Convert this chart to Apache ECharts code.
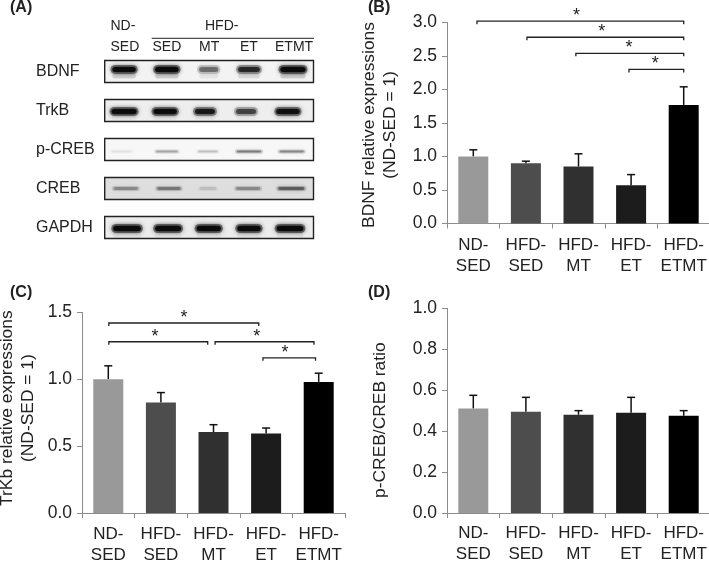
<!DOCTYPE html>
<html><head><meta charset="utf-8">
<style>html,body{margin:0;padding:0;background:#fff}#c{width:709px;height:561px}</style>
<script src="https://cdn.jsdelivr.net/npm/echarts@6/dist/echarts.min.js"></script>
</head><body><div id="c"></div>
<script>
const groups = ['ND-\nSED','HFD-\nSED','HFD-\nMT','HFD-\nET','HFD-\nETMT'];
const barColors = ['#999999','#4d4d4d','#303030','#1c1c1c','#000000'];
const bdnfValues = [1.0,0.9,0.85,0.57,1.77];
const bdnfErrTop = [1.10,0.93,1.04,0.73,2.04];
const trkbValues = [1.0,0.825,0.605,0.595,0.98];
const trkbErrTop = [1.10,0.90,0.66,0.635,1.045];
const ratioValues = [0.51,0.495,0.48,0.49,0.475];
const ratioErrTop = [0.575,0.565,0.50,0.565,0.50];
// [from, to, level] in group units
const bdnfBrackets = [[0.07,4.0,3.02],[1.02,4.0,2.78],[1.95,4.0,2.54],[2.96,4.0,2.30]];
const trkbBrackets = [[0.01,2.86,1.42],[0.01,1.89,1.28],[2.03,3.91,1.28],[2.94,3.94,1.16]];
// [x, level]
const bdnfStars = [[1.96,3.02],[2.44,2.78],[2.96,2.54],[3.46,2.30]];
const trkbStars = [[1.44,1.42],[0.89,1.28],[2.82,1.28],[3.36,1.16]];

const proteins = ['BDNF','TrkB','p-CREB','CREB','GAPDH'];
const bandCenters = [
  [0.48,1.50,2.50,3.46,4.51],
  [0.48,1.46,2.41,3.39,4.39],
  [0.42,1.50,2.48,3.46,4.48],
  [0.52,1.55,2.48,3.44,4.47],
  [0.55,1.53,2.50,3.46,4.44]];
const bandStrengths = [
  [0.95,1.0,0.4,0.7,1.0],
  [0.95,0.95,0.8,0.55,0.9],
  [0.06,0.24,0.16,0.38,0.34],
  [0.28,0.34,0.1,0.28,0.44],
  [1.0,1.0,1.0,1.0,1.0]];
const bandWidths = [
  [0.70,0.70,0.60,0.66,0.74],
  [0.74,0.70,0.62,0.62,0.70],
  [0.62,0.66,0.60,0.72,0.72],
  [0.72,0.70,0.54,0.72,0.76],
  [0.80,0.76,0.72,0.70,0.78]];
const rowBackgrounds = ['#f3f3f3','#eeeeee','#f7f7f7','#dedede','#ececec'];
const rowBandOffset = [-2,1,2,0,1];
const rowBandThickness = [9,9,4,5,9];
const rowSmear = [0.14,0.03,0,0,0.05];

const font = '"Liberation Sans", Arial, sans-serif';
const ink = '#222';
const axisGray = '#8c8c8c';

const panels = [
 {top:22.5,height:201,left:447,max:3,interval:0.5,name:'BDNF relative expressions\n(ND-SED = 1)',gap:46,pad:[0,4,0,0],labelMargin:11,values:bdnfValues,err:bdnfErrTop,br:bdnfBrackets,st:bdnfStars},
 {top:312.3,height:200.7,left:82,max:1.5,interval:0.5,name:'TrKb relative expressions\n(ND-SED = 1)',gap:43.5,pad:[0,0,0,9],labelMargin:11,values:trkbValues,err:trkbErrTop,br:trkbBrackets,st:trkbStars},
 {top:308.3,height:204.7,left:447,max:1,interval:0.2,name:'p-CREB/CREB ratio',gap:56,pad:[0,19,0,0],labelMargin:10,values:ratioValues,err:ratioErrTop,br:[],st:[]}
];

const grid=[],xAxis=[],yAxis=[],series=[];
panels.forEach((p,i)=>{
  const g=grid.length;
  grid.push({left:p.left,top:p.top,width:263,height:p.height,outerBoundsMode:'none'});
  const catX=xAxis.length;
  xAxis.push({type:'category',gridIndex:g,data:groups,boundaryGap:true,
    axisLine:{lineStyle:{color:axisGray,width:1}},axisTick:{show:true,length:5,lineStyle:{color:axisGray},alignWithLabel:false},
    axisLabel:{interval:0,color:ink,fontFamily:font,fontSize:17,lineHeight:21,margin:p.labelMargin,hideOverlap:false},splitLine:{show:false}});
  const valX=xAxis.length;
  xAxis.push({type:'value',gridIndex:g,min:-0.5,max:4.5,show:false,splitLine:{show:false}});
  const yi=yAxis.length;
  yAxis.push({type:'value',gridIndex:g,min:0,max:p.max,interval:p.interval,
    name:p.name,nameLocation:'middle',nameGap:p.gap,nameMoveOverlap:false,
    nameTextStyle:{color:ink,fontFamily:font,fontSize:17.4,lineHeight:21,padding:p.pad},
    axisLine:{show:true,onZero:false,lineStyle:{color:axisGray,width:1}},axisTick:{show:true,length:5,lineStyle:{color:axisGray}},
    axisLabel:{color:ink,fontFamily:font,fontSize:17.5,margin:10,formatter:v=>v.toFixed(1)},splitLine:{show:false}});
  series.push({type:'bar',xAxisIndex:catX,yAxisIndex:yi,barWidth:30,silent:true,animation:false,
    data:p.values.map((v,k)=>({value:v,itemStyle:{color:barColors[k]}}))});
  series.push({type:'custom',xAxisIndex:catX,yAxisIndex:yi,silent:true,animation:false,z:1,
    encode:{x:0,y:2},
    data:p.values.map((v,k)=>[k,v,p.err[k]]),
    renderItem(params,api){
      const a=api.coord([api.value(0),api.value(1)]),b=api.coord([api.value(0),api.value(2)]);
      const st={stroke:'#111',lineWidth:1.5,fill:null};
      return {type:'group',children:[
        {type:'line',shape:{x1:a[0],y1:a[1],x2:b[0],y2:b[1]},style:st},
        {type:'line',shape:{x1:a[0]-4,y1:b[1],x2:b[0]+4,y2:b[1]},style:st}]};
    }});
  if(p.br.length){
    series.push({type:'custom',xAxisIndex:valX,yAxisIndex:yi,silent:true,animation:false,z:3,clip:false,
      encode:{x:[0,1],y:2},data:p.br,
      renderItem(params,api){
        const a=api.coord([api.value(0),api.value(2)]),b=api.coord([api.value(1),api.value(2)]);
        return {type:'polyline',shape:{points:[[a[0],a[1]+3],[a[0],a[1]],[b[0],b[1]],[b[0],b[1]+3]]},
          style:{stroke:'#222',lineWidth:1.3,fill:null}};
      }});
    series.push({type:'custom',xAxisIndex:valX,yAxisIndex:yi,silent:true,animation:false,z:3,clip:false,
      encode:{x:0,y:1},data:p.st,
      renderItem(params,api){
        const a=api.coord([api.value(0),api.value(1)]);
        return {type:'text',style:{x:a[0],y:a[1]-5,text:'*',fill:'#222',font:'18px '+font,textAlign:'center',textVerticalAlign:'middle'}};
      }});
  }
});

// blot panel
const bg=grid.length;
grid.push({left:104,top:52,width:209.5,height:195,outerBoundsMode:'none'});
const bx=xAxis.length;
xAxis.push({type:'value',gridIndex:bg,min:0,max:5,show:false,splitLine:{show:false}});
const by=yAxis.length;
yAxis.push({type:'category',gridIndex:bg,data:proteins,inverse:true,
  axisLine:{show:false},axisTick:{show:false},splitLine:{show:false},
  axisLabel:{color:ink,fontFamily:font,fontSize:16,margin:68,align:'left',interval:0}});
series.push({type:'custom',xAxisIndex:bx,yAxisIndex:by,silent:true,animation:false,clip:false,
  encode:{y:1},data:proteins.map((n,r)=>[0,r]),
  renderItem(params,api){
    const r=api.value(1);
    const c=api.coord([0,r]);
    const x0=c[0]+0.7, x1=api.coord([5,r])[0];
    const h=22, cy=c[1];
    const kids=[{type:'rect',shape:{x:x0,y:cy-h/2,width:x1-x0,height:h},style:{fill:rowBackgrounds[r]}}];
    bandCenters[r].forEach((cx,k)=>{
      const s=bandStrengths[r][k];
      const m=api.coord([cx,r]);
      const w=api.size([bandWidths[r][k],0])[0];
      const t=rowBandThickness[r];
      const yy=cy+rowBandOffset[r];
      if(rowSmear[r]>0){
        kids.push({type:'rect',shape:{x:m[0]-w/2+3,y:yy+4,width:w-6,height:5,r:2},
          style:{fill:'rgba(0,0,0,'+(rowSmear[r]*s)+')',shadowBlur:6,shadowColor:'rgba(0,0,0,'+(rowSmear[r]*s)+')'}});
      }
      kids.push({type:'rect',shape:{x:m[0]-w/2+1,y:yy-t/2,width:w-2,height:t,r:t/2},
        style:{fill:'rgba(10,10,10,'+(s*0.45)+')',shadowBlur:5,shadowColor:'rgba(0,0,0,'+(s*0.5)+')'}});
      kids.push({type:'rect',shape:{x:m[0]-w/2+3,y:yy-t*0.28,width:w-6,height:t*0.56,r:t*0.28},
        style:{fill:'rgba(10,10,10,'+s+')',shadowBlur:4,shadowColor:'rgba(0,0,0,'+s+')'}});
    });
    kids.push({type:'rect',shape:{x:x0,y:cy-h/2,width:x1-x0,height:h},style:{fill:null,stroke:'#222',lineWidth:1.4}});
    return {type:'group',children:kids};
  }});

const txt=(x,y,t,size,weight)=>({type:'text',x,y,style:{text:t,fill:ink,font:(weight||'normal')+' '+size+'px '+font,textVerticalAlign:'middle'}});
const graphic=[
  txt(10,8,'(A)',16,'bold'),txt(368,8,'(B)',16,'bold'),txt(10,293,'(C)',16,'bold'),txt(368,293,'(D)',16,'bold'),
  txt(110.5,26,'ND-',14),txt(110.5,47,'SED',14),txt(205,26,'HFD-',14),
  txt(152.5,47,'SED',14),txt(199,47,'MT',14),txt(240,47,'ET',14),txt(275,47,'ETMT',14),
  {type:'line',shape:{x1:151.7,y1:38.3,x2:314,y2:38.3},style:{stroke:'#222',lineWidth:1}}
];

const chart=echarts.init(document.getElementById('c'),null,{renderer:'canvas'});
chart.setOption({animation:false,backgroundColor:'#fff',grid,xAxis,yAxis,series,graphic});
</script></body></html>
